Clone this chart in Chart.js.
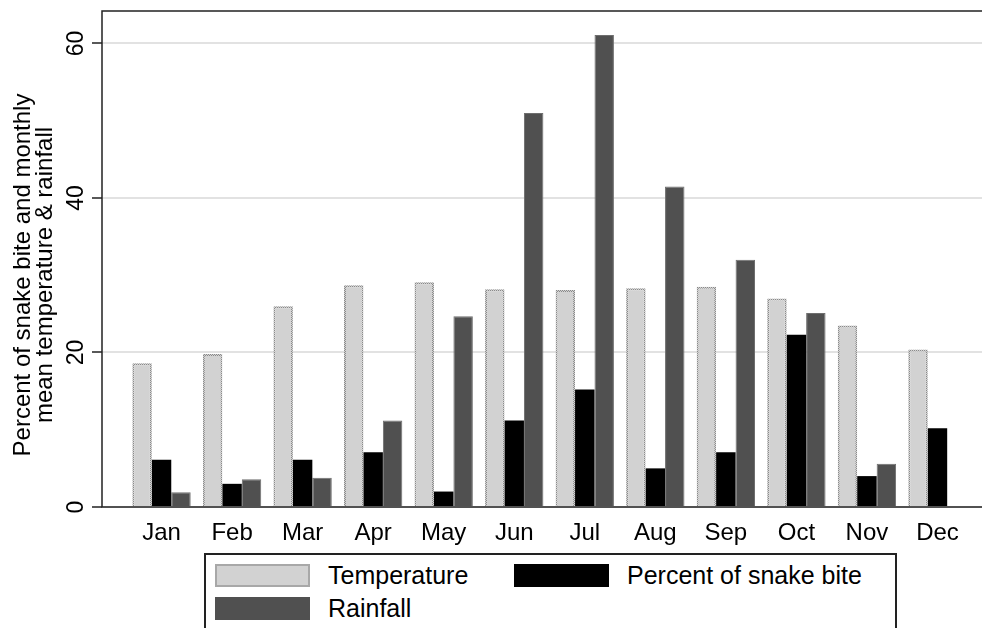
<!DOCTYPE html>
<html>
<head>
<meta charset="utf-8">
<style type="text/css">
  body { margin: 0; background: #fff; }
  #wrap { position: relative; width: 982px; height: 628px; overflow: hidden; }
  #chart { position: absolute; left: 0; top: 0; }
  #legend {
    position: absolute; left: 204px; top: 553px; width: 693px; height: 100px;
    border: 2px solid #222; box-sizing: border-box; background: #fff;
    font-family: "Liberation Sans", Arial, sans-serif; font-size: 25px; color: #000;
  }
  #legend .item { position: absolute; display: flex; align-items: center; height: 24px; white-space: nowrap; }
  #legend .swatch { display: inline-block; width: 95px; height: 23px; box-sizing: border-box; }
  #legend .label { margin-left: 18px; }
</style>
</head>
<body>
<div id="wrap">
  <canvas id="chart" width="1010" height="628"></canvas>
  <div id="legend"></div>
</div>
<script src="https://cdn.jsdelivr.net/npm/chart.js@4.4.1/dist/chart.umd.min.js"></script>
<script>
var months = ["Jan", "Feb", "Mar", "Apr", "May", "Jun", "Jul", "Aug", "Sep", "Oct", "Nov", "Dec"];
var temperature = [18.6, 19.8, 26.0, 28.7, 29.1, 28.2, 28.1, 28.3, 28.5, 27.0, 23.5, 20.4];
var snakeBite = [6.1, 3.0, 6.1, 7.1, 2.0, 11.2, 15.2, 5.0, 7.1, 22.3, 4.0, 10.2];
var rainfall = [1.9, 3.6, 3.8, 11.2, 24.7, 51.0, 61.1, 41.5, 32.0, 25.1, 5.6, 0];
var yTitle = ["Percent of snake bite and monthly", "mean temperature & rainfall"];

var FONT = '"Liberation Sans", Arial, sans-serif';

function points(values) {
  return values.map(function(v, i) { return {x: i + 1, y: v}; });
}

// dotted border for the temperature bars
function dotPattern() {
  var c = document.createElement('canvas');
  c.width = 2; c.height = 2;
  var g = c.getContext('2d');
  g.fillStyle = '#d2d2d2';
  g.fillRect(0, 0, 2, 2);
  g.fillStyle = '#8a8a8a';
  g.fillRect(0, 0, 1, 1);
  g.fillRect(1, 1, 1, 1);
  return g.createPattern(c, 'repeat');
}

var framePlugin = {
  id: 'frame',
  afterDatasetsDraw: function(chart) {
    var a = chart.chartArea, ctx = chart.ctx;
    ctx.save();
    ctx.strokeStyle = '#222';
    ctx.lineWidth = 1.5;
    ctx.strokeRect(a.left, a.top, a.right - a.left, a.bottom - a.top);
    ctx.restore();
  },
  afterDraw: function(chart) {
    var ctx = chart.ctx;
    ctx.save();
    ctx.font = '24px ' + FONT;
    ctx.fillStyle = '#000';
    ctx.textAlign = 'center';
    ctx.textBaseline = 'alphabetic';
    var xs = [30, 52];
    for (var i = 0; i < yTitle.length; i++) {
      ctx.save();
      ctx.translate(xs[i], 275);
      ctx.rotate(-Math.PI / 2);
      ctx.fillText(yTitle[i], 0, 0);
      ctx.restore();
    }
    ctx.restore();
  }
};

var ctx = document.getElementById('chart').getContext('2d');
var myChart = new Chart(ctx, {
  type: 'bar',
  data: {
    datasets: [
      {label: 'Temperature', data: points(temperature), backgroundColor: '#d2d2d2',
        borderColor: dotPattern(), borderWidth: 2, legendColor: '#d2d2d2', legendBorder: '#a8a8a8'},
      {label: 'Percent of snake bite', data: points(snakeBite), backgroundColor: '#000000',
        borderWidth: 0, legendColor: '#000000'},
      {label: 'Rainfall', data: points(rainfall), backgroundColor: '#505050',
        borderColor: '#6e6e6e', borderWidth: 1, legendColor: '#505050'}
    ]
  },
  options: {
    responsive: false,
    animation: false,
    events: [],
    devicePixelRatio: 1,
    categoryPercentage: 0.827,
    barPercentage: 1.0,
    layout: { padding: {left: 0, top: 11, right: 13, bottom: 0} },
    plugins: { legend: {display: false}, tooltip: {enabled: false} },
    scales: {
      x: {
        type: 'linear',
        offset: false,
        min: 0.156,
        max: 12.844,
        afterFit: function(s) { s.height = 121; s.paddingLeft = 0; s.paddingRight = 0; },
        afterBuildTicks: function(s) {
          s.ticks = months.map(function(m, i) { return {value: i + 1}; });
        },
        grid: {display: false},
        border: {display: false},
        ticks: {
          autoSkip: false, maxRotation: 0, padding: 4, color: '#000',
          font: {size: 24, family: FONT},
          callback: function(v) { return months[v - 1]; }
        }
      },
      y: {
        min: 0,
        max: 64.2,
        afterFit: function(s) { s.width = 102; s.paddingTop = 0; s.paddingBottom = 0; },
        border: {display: false},
        grid: {color: '#e2e2e2', lineWidth: 2, tickLength: 10, tickColor: '#222', tickWidth: 1.5},
        ticks: {
          stepSize: 20, includeBounds: false, minRotation: 90, maxRotation: 90,
          crossAlign: 'center', padding: 3, color: '#000',
          font: {size: 23, family: FONT}
        }
      }
    }
  },
  plugins: [framePlugin]
});

// legend in two columns, like the original
var slots = [{x: 9, y: 8}, {x: 308, y: 8}, {x: 9, y: 41}];
var legend = document.getElementById('legend');
myChart.data.datasets.forEach(function(ds, i) {
  var item = document.createElement('div');
  item.className = 'item';
  item.style.left = slots[i].x + 'px';
  item.style.top = slots[i].y + 'px';
  var sw = document.createElement('span');
  sw.className = 'swatch';
  sw.style.background = ds.legendColor;
  if (ds.legendBorder) sw.style.border = '2px solid ' + ds.legendBorder;
  var lb = document.createElement('span');
  lb.className = 'label';
  lb.textContent = ds.label;
  item.appendChild(sw);
  item.appendChild(lb);
  legend.appendChild(item);
});
</script>
</body>
</html>
